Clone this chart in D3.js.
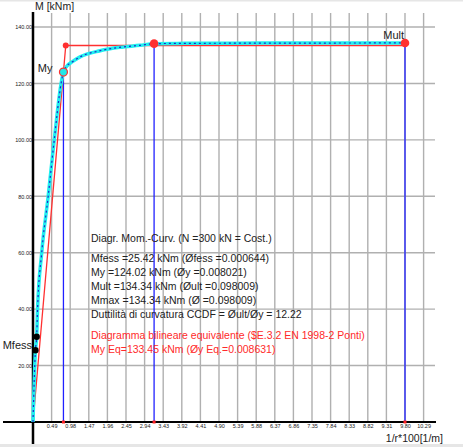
<!DOCTYPE html>
<html>
<head>
<meta charset="utf-8">
<script src="https://cdn.jsdelivr.net/npm/d3@7"></script>
<style>
  body { margin: 0; background: #fff; }
  svg { display: block; font-family: "Liberation Sans", Arial, sans-serif; }
</style>
</head>
<body>
<svg width="463" height="447"></svg>
<script>
//-- data --//
// curvature 1/r*100 [1/m] and moment [kNm]
const curvePhi = [0, 0.064, 0.097, 0.12, 0.23, 0.40, 0.56, 0.74, 0.802, 0.87, 1.04, 1.24, 1.77, 2.29, 2.82, 3.19, 4.0, 5.0, 6.0, 7.0, 8.0, 9.0, 9.80];
const curveM   = [0, 25.42, 30.2, 40, 60, 80, 100, 120, 124.02, 125.8, 127.7, 129.4, 131.6, 132.8, 133.5, 134.1, 134.2, 134.25, 134.3, 134.3, 134.32, 134.34, 134.34];

const bilinPhi = [0, 0.8631, 9.80];
const bilinM   = [0, 133.45, 133.45];

const crackPhi = [0.064, 0.097];
const crackM   = [25.42, 30.2];

const markerPhi = [0.802, 3.19, 9.80];   // My, Mmax reached, Mult
const markerM   = [124.02, 134.1, 134.34];

const xTicks = [0.49, 0.98, 1.47, 1.96, 2.45, 2.94, 3.43, 3.92, 4.41, 4.90, 5.39, 5.88, 6.37, 6.86, 7.35, 7.84, 8.33, 8.82, 9.31, 9.80, 10.29];
const yTicks = [20, 40, 60, 80, 100, 120, 140];

const infoLines = [
  "Diagr. Mom.-Curv. (N =300 kN = Cost.)",
  "Mfess =25.42 kNm  (\u00D8fess =0.000644)",
  "My =124.02 kNm  (\u00D8y =0.008021)",
  "Mult =134.34  kNm  (\u00D8ult =0.098009)",
  "Mmax =134.34 kNm  (\u00D8 =0.098009)",
  "Duttilit\u00E0 di curvatura CCDF = \u00D8ult/\u00D8y = 12.22"
];
const redLines = [
  "Diagramma bilineare equivalente ($E.3.2 EN 1998-2 Ponti)",
  "My Eq=133.45 kNm  (\u00D8y Eq.=0.008631)"
];

const curve = curvePhi.map((p, i) => ({phi: p, m: curveM[i]}));
const bilin = bilinPhi.map((p, i) => ({phi: p, m: bilinM[i]}));
const crack = crackPhi.map((p, i) => ({phi: p, m: crackM[i]}));
const markers = markerPhi.map((p, i) => ({phi: p, m: markerM[i]}));

//-- scales --//
const x = d3.scaleLinear().domain([0, 10.29]).range([33, 423.6]);
const y = d3.scaleLinear().domain([0, 140]).range([422, 27]);

const svg = d3.select("svg");

// window chrome bands
svg.append("rect").attr("x", 0).attr("y", 0).attr("width", 463).attr("height", 1.5).attr("fill", "#e6e6e6");
svg.append("rect").attr("x", 0).attr("y", 444).attr("width", 463).attr("height", 3).attr("fill", "#e6e6e6");

//-- grid --//
const grid = svg.append("g").attr("stroke", "#b0b0b0").attr("stroke-width", 1.4);
grid.selectAll(".v").data(xTicks).join("line")
    .attr("x1", d => x(d)).attr("x2", d => x(d))
    .attr("y1", 13).attr("y2", y(0));
grid.selectAll(".h").data(yTicks).join("line")
    .attr("x1", x(0)).attr("x2", 435)
    .attr("y1", d => y(d)).attr("y2", d => y(d));

//-- axes --//
const xAxis = g => g
    .attr("transform", `translate(0,${y(0)})`)
    .call(d3.axisBottom(x).tickValues(xTicks).tickSize(0).tickPadding(2).tickFormat(d3.format(".2f")))
    .call(g => g.select(".domain").remove())
    .call(g => g.selectAll("text").attr("font-size", 5.5).attr("fill", "#222").attr("font-family", null));

const yAxis = g => g
    .attr("transform", `translate(${x(0)},0)`)
    .call(d3.axisLeft(y).tickValues(yTicks).tickSize(0).tickPadding(1).tickFormat(d3.format(".2f")))
    .call(g => g.select(".domain").remove())
    .call(g => g.selectAll("text").attr("font-size", 5.5).attr("fill", "#222").attr("font-family", null));

svg.append("g").call(xAxis);
svg.append("g").call(yAxis);

svg.append("line").attr("x1", 3).attr("x2", 436).attr("y1", y(0)).attr("y2", y(0))
    .attr("stroke", "#000").attr("stroke-width", 2);
svg.append("line").attr("x1", x(0)).attr("x2", x(0)).attr("y1", 12).attr("y2", 444)
    .attr("stroke", "#000").attr("stroke-width", 2.5);

svg.append("text").attr("x", 35).attr("y", 10).attr("font-size", 10.5).attr("fill", "#222").text("M [kNm]");
svg.append("text").attr("x", 443).attr("y", 442).attr("text-anchor", "end")
    .attr("font-size", 10.5).attr("fill", "#222").text("1/r*100[1/m]");

//-- vertical markers --//
svg.append("g").selectAll("line").data(markers).join("line")
    .attr("x1", d => x(d.phi)).attr("x2", d => x(d.phi))
    .attr("y1", d => y(d.m)).attr("y2", y(0))
    .attr("stroke", "#2020ff").attr("stroke-width", 1.3);
svg.append("g").selectAll("rect").data(markers).join("rect")
    .attr("x", d => x(d.phi) - 1.5).attr("y", y(0) - 1.5)
    .attr("width", 3).attr("height", 3).attr("fill", "#ff2020");

//-- bilinear --//
const line = d3.line().x(d => x(d.phi)).y(d => y(d.m));
svg.append("path").attr("d", line(bilin))
    .attr("fill", "none").attr("stroke", "#ff3030").attr("stroke-width", 1.3);
svg.append("circle").attr("cx", x(bilin[1].phi)).attr("cy", y(bilin[1].m)).attr("r", 3)
    .attr("fill", "#ff3030");

//-- moment-curvature curve --//
const smooth = d3.line().x(d => x(d.phi)).y(d => y(d.m)).curve(d3.curveMonotoneX);
svg.append("path").attr("d", smooth(curve))
    .attr("fill", "none").attr("stroke", "#20f0f0").attr("stroke-width", 3.5)
    .attr("stroke-linejoin", "round");
svg.append("path").attr("d", smooth(curve))
    .attr("fill", "none").attr("stroke", "#2424c8").attr("stroke-width", 1.2)
    .attr("stroke-dasharray", "2,3");

//-- points --//
svg.append("g").selectAll("circle").data(crack).join("circle")
    .attr("cx", d => x(d.phi)).attr("cy", d => y(d.m)).attr("r", 3.2).attr("fill", "#000");
svg.append("circle").attr("cx", x(markers[0].phi)).attr("cy", y(markers[0].m)).attr("r", 4)
    .attr("fill", "#20e8e8").attr("stroke", "#ff3030").attr("stroke-width", 1.2);
svg.append("g").selectAll("circle").data(markers.slice(1)).join("circle")
    .attr("cx", d => x(d.phi)).attr("cy", d => y(d.m)).attr("r", 4.3).attr("fill", "#ff3030");

//-- labels --//
svg.append("text").attr("x", x(markers[0].phi) - 11).attr("y", y(markers[0].m))
    .attr("text-anchor", "end").attr("font-size", 11).attr("fill", "#222").text("My");
svg.append("text").attr("x", x(markers[2].phi) - 1).attr("y", y(markers[2].m) - 4)
    .attr("text-anchor", "end").attr("font-size", 11).attr("fill", "#222").text("Mult");
svg.append("text").attr("x", x(0) - 1).attr("y", y(crackM[0]) - 1)
    .attr("text-anchor", "end").attr("font-size", 11).attr("fill", "#222").text("Mfess");

//-- info block --//
const info = svg.append("g").attr("font-size", 10.5);
info.selectAll(".k").data(infoLines).join("text")
    .attr("x", 91)
    .attr("y", (d, i) => i === 0 ? 242 : 248 + i * 14)
    .attr("fill", "#222")
    .text(d => d);
info.selectAll(".r").data(redLines).join("text")
    .attr("x", 91)
    .attr("y", (d, i) => 339 + i * 13.5)
    .attr("fill", "#ff2a2a")
    .text(d => d);
</script>
</body>
</html>
